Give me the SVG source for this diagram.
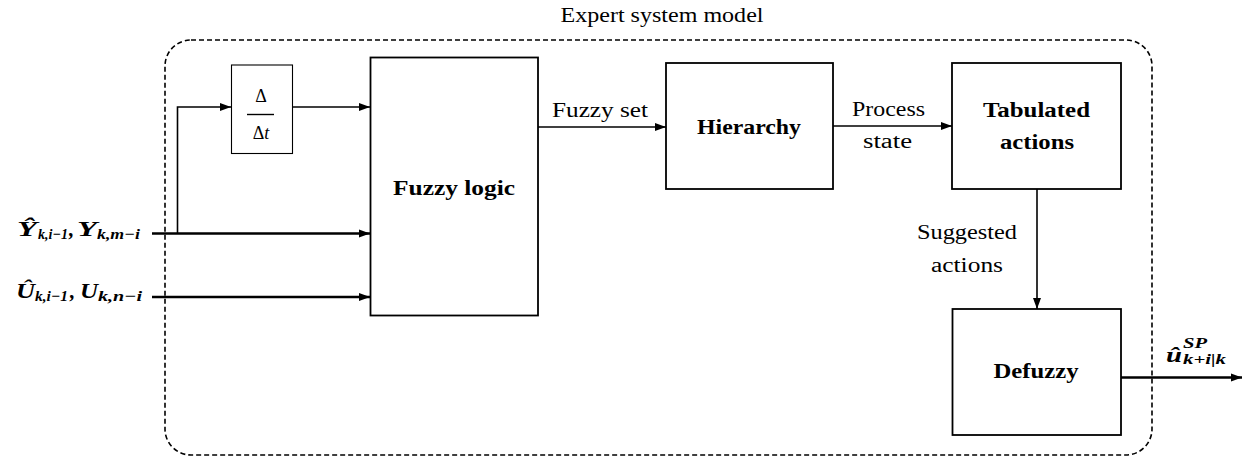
<svg xmlns="http://www.w3.org/2000/svg" width="1244" height="457" viewBox="0 0 1244 457">
<style>
.box{fill:#fff;stroke:#000;stroke-width:1.8}
.thin{fill:#fff;stroke:#000;stroke-width:1.1}
.ln{fill:none;stroke:#000;stroke-width:1.6}
.thk{fill:none;stroke:#000;stroke-width:2.6}
text{font-family:'Liberation Serif','DejaVu Serif',serif;fill:#000}
.t{font-size:20px}
.b{font-size:20px;font-weight:bold}
.m{font-style:italic;font-weight:bold}
</style>
<defs>
<marker id="ah" markerUnits="userSpaceOnUse" markerWidth="12" markerHeight="10" refX="11" refY="5" orient="auto">
<path d="M0,1 L11,5 L0,9 Z" fill="#000"/>
</marker>
</defs>
<rect x="165" y="40" width="987" height="415" rx="26" ry="26" fill="none" stroke="#000" stroke-width="1.6" stroke-dasharray="5 3"/>
<text class="t" x="662" y="22" text-anchor="middle" textLength="203" lengthAdjust="spacingAndGlyphs">Expert system model</text>
<g id="delta">
<rect class="thin" x="231.5" y="65" width="61" height="88.5"/>
<text x="261" y="102" text-anchor="middle" font-size="18">Δ</text>
<line x1="247" y1="114.5" x2="274" y2="114.5" stroke="#000" stroke-width="1.4"/>
<text x="261" y="139" text-anchor="middle" font-size="18">Δ<tspan font-style="italic">t</tspan></text>
</g>
<g id="fuzzylogic">
<rect class="box" x="370.5" y="57.5" width="167.5" height="258"/>
<text class="b" x="454" y="195" text-anchor="middle" textLength="122" lengthAdjust="spacingAndGlyphs">Fuzzy logic</text>
</g>
<g id="hierarchy">
<rect class="box" x="666" y="63" width="167" height="126"/>
<text class="b" x="749" y="134" text-anchor="middle" textLength="104" lengthAdjust="spacingAndGlyphs">Hierarchy</text>
</g>
<g id="tabulated">
<rect class="box" x="952" y="63" width="169" height="126"/>
<text class="b" x="1036.5" y="117" text-anchor="middle" textLength="107" lengthAdjust="spacingAndGlyphs">Tabulated</text>
<text class="b" x="1037" y="149" text-anchor="middle" textLength="74" lengthAdjust="spacingAndGlyphs">actions</text>
</g>
<g id="defuzzy">
<rect class="box" x="952.5" y="309" width="168.5" height="126"/>
<text class="b" x="1036" y="378" text-anchor="middle" textLength="85" lengthAdjust="spacingAndGlyphs">Defuzzy</text>
</g>
<g id="connectors">
<path class="thk" d="M152,233.5 H370" marker-end="url(#ah)"/>
<path class="thk" d="M152,297 H370" marker-end="url(#ah)"/>
<path class="ln" d="M177.5,233.5 V107 H231" marker-end="url(#ah)"/>
<path class="ln" d="M292.5,107 H370" marker-end="url(#ah)"/>
<path class="ln" d="M538,127 H666" marker-end="url(#ah)"/>
<path class="ln" d="M833,126 H952" marker-end="url(#ah)"/>
<path class="ln" d="M1037,189 V309" marker-end="url(#ah)"/>
<path class="thk" d="M1121,377.5 H1242" marker-end="url(#ah)"/>
</g>
<g id="labels">
<text class="t" x="600" y="117" text-anchor="middle" textLength="96" lengthAdjust="spacingAndGlyphs">Fuzzy set</text>
<text class="t" x="888.5" y="116" text-anchor="middle" textLength="73" lengthAdjust="spacingAndGlyphs">Process</text>
<text class="t" x="887.5" y="148" text-anchor="middle" textLength="49" lengthAdjust="spacingAndGlyphs">state</text>
<text class="t" x="967" y="239" text-anchor="middle" textLength="100" lengthAdjust="spacingAndGlyphs">Suggested</text>
<text class="t" x="967" y="272" text-anchor="middle" textLength="72" lengthAdjust="spacingAndGlyphs">actions</text>
</g>
<g id="input-y">
<text class="m" x="17" y="236" font-size="22" textLength="20" lengthAdjust="spacingAndGlyphs">Ŷ</text>
<text class="m" x="38" y="239" font-size="15" textLength="30" lengthAdjust="spacingAndGlyphs">k,i−1</text>
<text class="m" x="69" y="236" font-size="21">,</text>
<text class="m" x="77" y="236" font-size="22" textLength="20" lengthAdjust="spacingAndGlyphs">Y</text>
<text class="m" x="97" y="239" font-size="15" textLength="43" lengthAdjust="spacingAndGlyphs">k,m−i</text>
</g>
<g id="input-u">
<text class="m" x="16" y="298" font-size="22" textLength="19" lengthAdjust="spacingAndGlyphs">Û</text>
<text class="m" x="35" y="301" font-size="15" textLength="33" lengthAdjust="spacingAndGlyphs">k,i−1</text>
<text class="m" x="70" y="298" font-size="21">,</text>
<text class="m" x="80" y="298" font-size="22" textLength="18" lengthAdjust="spacingAndGlyphs">U</text>
<text class="m" x="98" y="301" font-size="15" textLength="44" lengthAdjust="spacingAndGlyphs">k,n−i</text>
</g>
<g id="output">
<text class="m" x="1166" y="362" font-size="22" textLength="16" lengthAdjust="spacingAndGlyphs">û</text>
<text class="m" x="1183" y="348" font-size="15" textLength="24" lengthAdjust="spacingAndGlyphs">SP</text>
<text class="m" x="1183" y="364" font-size="15" textLength="43" lengthAdjust="spacingAndGlyphs">k+i|k</text>
</g>
</svg>
